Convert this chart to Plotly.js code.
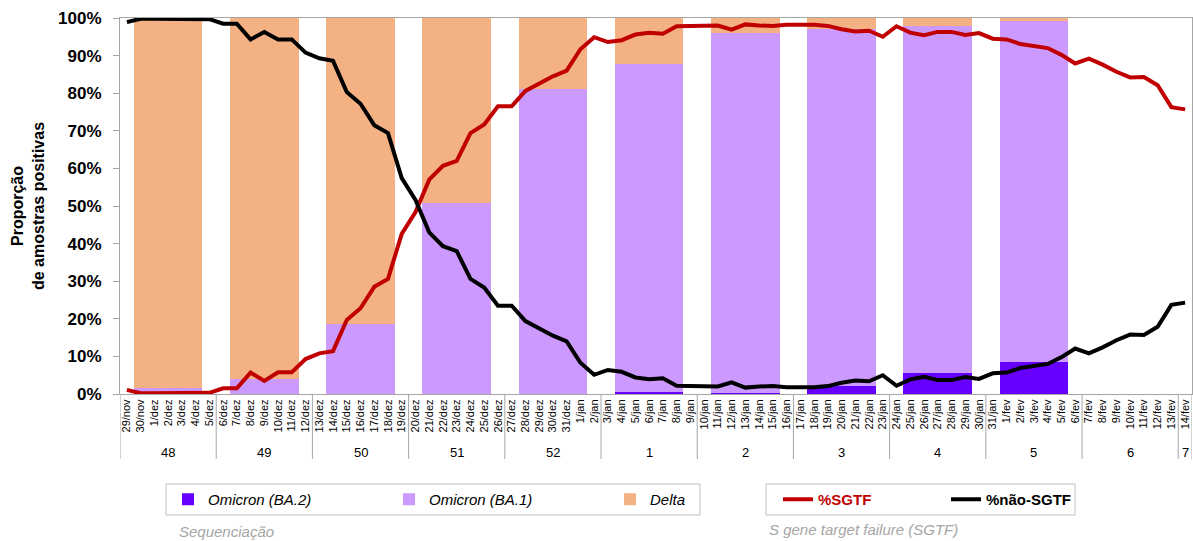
<!DOCTYPE html>
<html>
<head>
<meta charset="utf-8">
<script src="https://cdn.plot.ly/plotly-3.0.1.min.js"></script>
<style>html,body{margin:0;padding:0;background:#fff;}</style>
</head>
<body>
<div id="chart" style="width:1193px;height:541px;"></div>
<script>
// ---- data ----
const dates = ['29/nov','30/nov',
 '1/dez','2/dez','3/dez','4/dez','5/dez','6/dez','7/dez','8/dez','9/dez','10/dez','11/dez','12/dez','13/dez','14/dez','15/dez','16/dez','17/dez','18/dez','19/dez','20/dez','21/dez','22/dez','23/dez','24/dez','25/dez','26/dez','27/dez','28/dez','29/dez','30/dez','31/dez',
 '1/jan','2/jan','3/jan','4/jan','5/jan','6/jan','7/jan','8/jan','9/jan','10/jan','11/jan','12/jan','13/jan','14/jan','15/jan','16/jan','17/jan','18/jan','19/jan','20/jan','21/jan','22/jan','23/jan','24/jan','25/jan','26/jan','27/jan','28/jan','29/jan','30/jan','31/jan',
 '1/fev','2/fev','3/fev','4/fev','5/fev','6/fev','7/fev','8/fev','9/fev','10/fev','11/fev','12/fev','13/fev','14/fev'];

const weeks = ['48','49','50','51','52','1','2','3','4','5','6','7'];
const daysPerWeek = [7,7,7,7,7,7,7,7,7,7,7,1];

const sgtf = [1.1,0.2,0.2,0.2,0.2,0.2,0.3,1.5,1.5,5.7,3.5,5.8,5.8,9.3,10.8,11.4,19.7,22.8,28.5,30.6,
 42.6,48.4,57.0,60.7,62.0,69.4,71.7,76.5,76.5,80.6,82.5,84.5,86.0,91.7,94.9,93.6,94.1,95.6,96.1,95.8,
 97.8,97.9,98.1,98.0,96.9,98.3,98.0,97.9,98.2,98.2,98.2,97.9,97.0,96.4,96.6,95.0,97.8,96.1,95.4,96.3,
 96.3,95.5,96.0,94.5,94.3,93.1,92.5,92.0,90.2,87.9,89.2,87.6,85.7,84.2,84.3,82.1,76.3,75.7];

const naoSgtf = [98.9,99.8,99.8,99.8,99.8,99.8,99.7,98.5,98.5,94.3,96.3,94.3,94.3,90.8,89.3,88.6,80.3,77.2,71.5,69.4,
 57.4,51.6,43.0,39.3,38.0,30.6,28.3,23.5,23.5,19.4,17.5,15.5,14.0,8.3,5.1,6.4,5.9,4.4,3.9,4.2,
 2.2,2.1,1.9,2.0,3.1,1.7,2.0,2.1,1.8,1.8,1.8,2.1,3.0,3.6,3.4,5.0,2.2,3.9,4.6,3.7,
 3.7,4.5,4.0,5.5,5.7,6.9,7.5,8.0,9.8,12.1,10.8,12.4,14.3,15.8,15.7,17.9,23.7,24.3];

// sequencing, one value per week (weeks 48 .. 5)
const seqWeeks = ['48','49','50','51','52','1','2','3','4','5'];
const ba2   = [0,0,0,0,0,0.5,0.3,2.2,5.6,8.5];
const ba1   = [1.5,4.1,18.6,50.8,81.0,87.4,95.8,94.9,92.4,90.8];
const delta = [98.5,95.9,81.4,49.2,19.0,12.1,3.9,2.9,2.0,0.7];

// ---- derived positions ----
const dayIdx = dates.map((d,i)=>i);
const weekStart = [];
let acc = 0;
daysPerWeek.forEach(n=>{weekStart.push(acc); acc+=n;});
const seqX = seqWeeks.map(w=>weekStart[weeks.indexOf(w)] + 3);   // centred on Thursday

const FONT = 'Arial, "Liberation Sans", sans-serif';
const barCommon = {type:'bar', x:seqX, width:5, legend:'legend', hoverinfo:'skip'};

const traces = [
  Object.assign({}, barCommon, {name:'Omicron (BA.2)', y:ba2,   marker:{color:'#6600FF', line:{width:0}}}),
  Object.assign({}, barCommon, {name:'Omicron (BA.1)', y:ba1,   marker:{color:'#CC99FF', line:{width:0}}}),
  Object.assign({}, barCommon, {name:'Delta',          y:delta, marker:{color:'#F4B183', line:{width:0}}}),
  {type:'scatter', mode:'lines', x:dayIdx, y:sgtf, name:'<span style="color:#C00000">%SGTF</span>',
   line:{color:'#C00000', width:4}, legend:'legend2', hoverinfo:'skip'},
  {type:'scatter', mode:'lines', x:dayIdx, y:naoSgtf, name:'%não-SGTF',
   line:{color:'#000000', width:4}, legend:'legend2', hoverinfo:'skip'}
];

// plot area pixels: x 120..1192, y 18..394
const px = p => (p-120)/1072;
const py = p => (394-p)/376;

const shapes = [];
const annotations = [];
weekStart.forEach((s,i)=>{
  shapes.push({type:'line', xref:'x', yref:'paper', x0:s-0.5, x1:s-0.5, y0:0, y1:py(459), line:{color:'#A6A6A6', width:1}});
  annotations.push({xref:'x', yref:'paper', x:s+(daysPerWeek[i]-1)/2, y:py(452), text:weeks[i], showarrow:false,
    font:{family:FONT, size:13, color:'#000'}, xanchor:'center', yanchor:'middle'});
});
shapes.push({type:'line', xref:'x', yref:'paper', x0:dates.length-0.5, x1:dates.length-0.5, y0:0, y1:py(459), line:{color:'#A6A6A6', width:1}});
// legend frames
shapes.push({type:'rect', xref:'paper', yref:'paper', x0:px(166), x1:px(700), y0:py(484), y1:py(515), line:{color:'#BFBFBF', width:1}});
shapes.push({type:'rect', xref:'paper', yref:'paper', x0:px(766), x1:px(1075), y0:py(484), y1:py(515), line:{color:'#BFBFBF', width:1}});

annotations.push({xref:'paper', yref:'paper', x:px(177), y:py(531), text:'Sequenciação', showarrow:false, xanchor:'left', yanchor:'middle',
  font:{family:FONT, size:15, color:'#A6A6A6', style:'italic'}});
annotations.push({xref:'paper', yref:'paper', x:px(767), y:py(529), text:'S gene target failure (SGTF)', showarrow:false, xanchor:'left', yanchor:'middle',
  font:{family:FONT, size:15, color:'#A6A6A6', style:'italic'}});

const layout = {
  width:1193, height:541,
  margin:{l:120, r:1, t:18, b:147, pad:0},
  paper_bgcolor:'#fff', plot_bgcolor:'#fff',
  barmode:'stack', bargap:0,
  font:{family:FONT, color:'#000'},
  xaxis:{range:[-0.5, dates.length-0.5], tickmode:'array', tickvals:dayIdx, ticktext:dates, tickangle:-90,
    tickfont:{family:FONT, size:11, color:'#000'}, ticks:'', showgrid:false, zeroline:false,
    showline:true, linecolor:'#A6A6A6', linewidth:1, mirror:true, automargin:false, fixedrange:true},
  yaxis:{range:[0,100], dtick:10, ticksuffix:'%', tickfont:{family:FONT, size:17, weight:'bold', color:'#000'},
    ticks:'outside', ticklen:6, tickcolor:'#A6A6A6', ticklabelstandoff:8, showgrid:false, zeroline:false,
    showline:true, linecolor:'#A6A6A6', linewidth:1, mirror:true, automargin:false, fixedrange:true,
    title:{text:'Proporção<br>de amostras positivas', font:{family:FONT, size:16, weight:'bold', color:'#000'}, standoff:9}},
  showlegend:true,
  legend:{orientation:'h', x:px(168), y:py(499.5), xanchor:'left', yanchor:'middle', bgcolor:'rgba(0,0,0,0)',
    borderwidth:0, entrywidth:176, entrywidthmode:'pixels', traceorder:'normal',
    font:{family:FONT, size:15, style:'italic', color:'#000'}},
  legend2:{orientation:'h', x:px(778), y:py(499.5), xanchor:'left', yanchor:'middle', bgcolor:'rgba(0,0,0,0)',
    borderwidth:0, entrywidth:123, entrywidthmode:'pixels', traceorder:'normal',
    font:{family:FONT, size:15, weight:'bold', color:'#000'}},
  shapes:shapes,
  annotations:annotations
};

Plotly.newPlot('chart', traces, layout, {displayModeBar:false, staticPlot:true});
</script>
</body>
</html>
